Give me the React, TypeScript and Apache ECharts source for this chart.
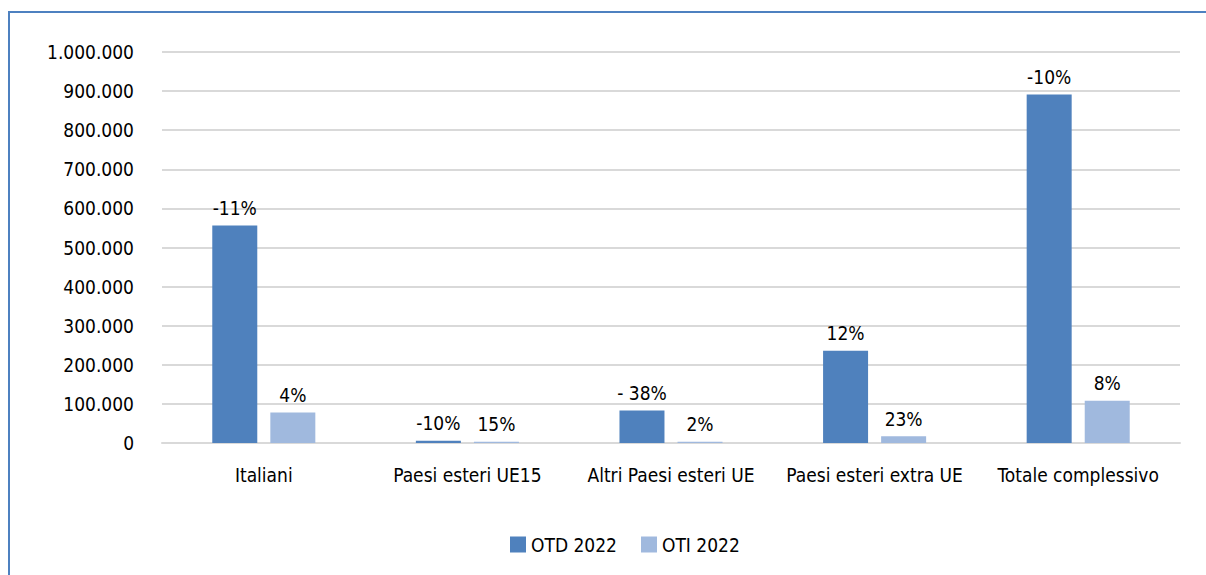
import React, { useEffect, useRef } from "react";
import * as echarts from "echarts";

const categories = [
  "Italiani",
  "Paesi esteri UE15",
  "Altri Paesi esteri UE",
  "Paesi esteri extra UE",
  "Totale complessivo",
];
const otdValues = [556000, 6000, 83000, 236000, 891000];
const otiValues = [78000, 3000, 3000, 17000, 108000];
const otdLabels = ["-11%", "-10%", "- 38%", "12%", "-10%"];
const otiLabels = ["4%", "15%", "2%", "23%", "8%"];
const seriesNames = ["OTD 2022", "OTI 2022"];

const FONT = "DejaVu Sans Condensed";
const FS = 19;

function fmt(v: number): string {
  const s = String(Math.round(v));
  return s.replace(/\B(?=(\d{3})+(?!\d))/g, ".");
}

export default function App() {
  const ref = useRef<HTMLDivElement>(null);
  useEffect(() => {
    if (!ref.current) return;
    const chart = echarts.init(ref.current, undefined, { renderer: "svg" });
    const labelStyle = {
      show: true,
      position: "top" as const,
      distance: 8,
      color: "#000",
      fontFamily: FONT,
      fontSize: FS,
    };
    chart.setOption({
      animation: false,
      backgroundColor: "#fff",
      textStyle: { fontFamily: FONT },
      graphic: [
        {
          type: "line",
          shape: { x1: 9, y1: 12, x2: 9, y2: 575 },
          style: { stroke: "#4e81c0", lineWidth: 2 },
        },
        {
          type: "line",
          shape: { x1: 8, y1: 12, x2: 1206, y2: 12 },
          style: { stroke: "#4e81c0", lineWidth: 2 },
        },
      ],
      grid: { left: 162, right: 26, top: 52, bottom: 132, containLabel: false },
      legend: {
        data: seriesNames,
        top: 535,
        left: 510,
        padding: 0,
        itemWidth: 16,
        itemHeight: 16,
        itemGap: 24,
        icon: "rect",
        textStyle: { fontFamily: FONT, fontSize: FS, color: "#000" },
      },
      xAxis: {
        type: "category",
        data: categories,
        axisLine: { show: true, lineStyle: { color: "#d9d9d9", width: 2 } },
        axisTick: { show: false },
        axisLabel: {
          color: "#000",
          fontFamily: FONT,
          fontSize: FS,
          margin: 22,
          interval: 0,
        },
      },
      yAxis: {
        type: "value",
        min: 0,
        max: 1000000,
        interval: 100000,
        axisLine: { show: false },
        axisTick: { show: false },
        splitLine: { lineStyle: { color: "#d9d9d9", width: 2 } },
        axisLabel: {
          color: "#000",
          fontFamily: FONT,
          fontSize: FS,
          margin: 28,
          formatter: (v: number) => fmt(v),
        },
      },
      series: [
        {
          name: seriesNames[0],
          type: "bar",
          data: otdValues,
          barWidth: 45,
          barGap: "29%",
          itemStyle: { color: "#4f81bd" },
          label: { ...labelStyle, formatter: (p: any) => otdLabels[p.dataIndex] },
        },
        {
          name: seriesNames[1],
          type: "bar",
          data: otiValues,
          barWidth: 45,
          barGap: "29%",
          itemStyle: { color: "#a0b9de" },
          label: { ...labelStyle, formatter: (p: any) => otiLabels[p.dataIndex] },
        },
      ],
    });
    return () => chart.dispose();
  }, []);
  return (
    <div
      ref={ref}
      style={{ position: "fixed", left: 0, top: 0, width: 1206, height: 575 }}
    />
  );
}
